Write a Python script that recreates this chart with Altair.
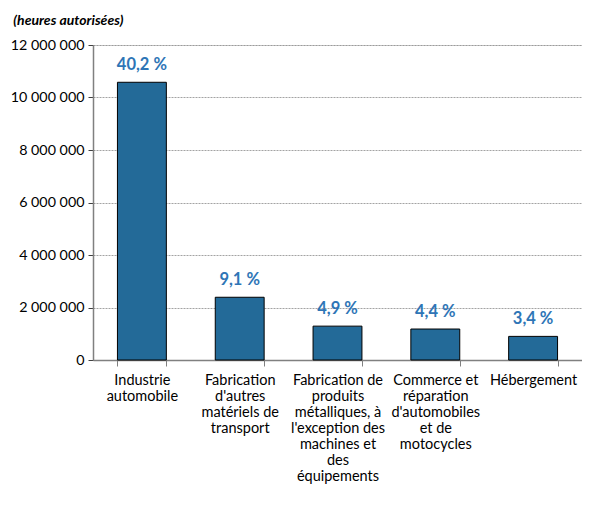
import altair as alt
import pandas as pd

categories = [
    "Industrie|automobile",
    "Fabrication|d'autres|matériels de|transport",
    "Fabrication de|produits|métalliques, à|l'exception des|machines et|des|équipements",
    "Commerce et|réparation|d'automobiles|et de|motocycles",
    "Hébergement",
]
heures = [10580000, 2390000, 1290000, 1180000, 900000]
parts = ["40,2 %", "9,1 %", "4,9 %", "4,4 %", "3,4 %"]
y_ticks = [0, 2000000, 4000000, 6000000, 8000000, 10000000, 12000000]

df = pd.DataFrame({"cat": categories, "heures": heures, "part": parts})

FONT = "Lato"

x = alt.X(
    "cat:N",
    sort=categories,
    scale=alt.Scale(paddingInner=0.5, paddingOuter=0.25),
    axis=alt.Axis(
        title=None,
        labelAngle=0,
        labelExpr="split(datum.label, '|')",
        labelFont=FONT,
        labelFontSize=14.5,
        labelColor="#000000",
        labelLineHeight=16,
        labelPadding=7,
        labelBaseline="top",
        tickBand="extent",
        tickSize=6,
        tickColor="#808080",
        domainColor="#808080",
        domainWidth=1.5,
        grid=False,
    ),
)

y = alt.Y(
    "heures:Q",
    scale=alt.Scale(domain=[0, 12000000], nice=False),
    axis=alt.Axis(
        title=None,
        values=y_ticks,
        labelExpr="replace(format(datum.value, ',d'), /,/g, ' ')",
        labelFont=FONT,
        labelFontSize=14.3,
        labelColor="#000000",
        labelPadding=4,
        tickSize=5,
        tickColor="#404040",
        domainColor="#808080",
        domainWidth=1.5,
        grid=True,
        gridColor="#8c8c8c",
        gridDash=[2, 1],
        gridWidth=0.8,
    ),
)

bars = alt.Chart(df).mark_bar(
    color="#236a98", stroke="#000000", strokeWidth=1
).encode(x=x, y=y)

labels = alt.Chart(df).mark_text(
    font=FONT, fontSize=16.5, fontWeight="bold", color="#2e75b6",
    baseline="middle", dy=-17
).encode(x=alt.X("cat:N", sort=categories), y="heures:Q", text="part:N")

chart = alt.layer(bars, labels).properties(
    width=489,
    height=315,
    padding={"left": 85, "top": 37, "right": 0, "bottom": 124},
    autosize=alt.AutoSizeParams(type="none"),
    title=alt.TitleParams(
        "(heures autorisées)", anchor="start", dx=3, offset=10,
        font=FONT, fontSize=14, fontWeight="bold", fontStyle="italic",
        color="#000000",
    ),
).configure_view(stroke=None).configure(background="white")

chart.save("out.html", embed_options={"renderer": "svg", "actions": False})
